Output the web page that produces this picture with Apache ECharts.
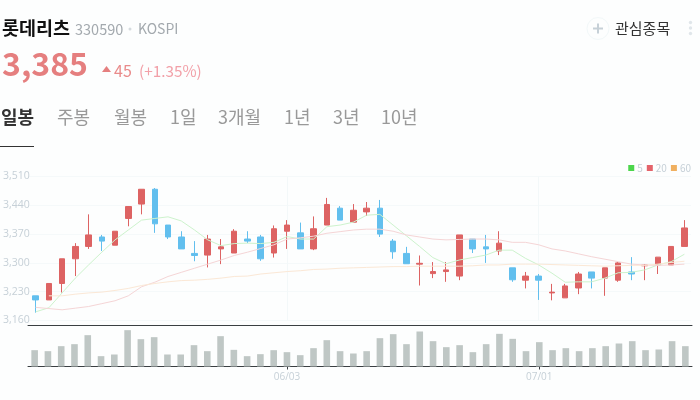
<!DOCTYPE html>
<html><head><meta charset="utf-8">
<style>html,body{margin:0;padding:0;background:#fdfefe}#c{width:700px;height:400px}</style>
<script src="https://cdn.jsdelivr.net/npm/echarts@6/dist/echarts.min.js"></script>
</head><body><div id="c"></div>
<script>
const dates=['05/06','05/09','05/10','05/11','05/12','05/13','05/16','05/17','05/18','05/19','05/20','05/23','05/24','05/25','05/26','05/27','05/30','05/31','06/02','06/03','06/07','06/08','06/09','06/10','06/13','06/14','06/15','06/16','06/17','06/20','06/21','06/22','06/23','06/24','06/27','06/28','06/29','06/30','07/01','07/04','07/05','07/06','07/07','07/08','07/11','07/12','07/13','07/14','07/15','07/18'];
const shownDates=['06/03','07/01'];
const priceTicks=[3160,3230,3300,3370,3440,3510];
const opens=[3220,3210,3250,3310,3340,3363,3343,3408,3443,3479,3392,3363,3323,3319,3334,3324,3358,3363,3324,3377,3373,3334,3392,3433,3399,3424,3433,3353,3323,3297,3274,3279,3268,3358,3339,3329,3288,3258,3268,3227,3215,3239,3278,3263,3258,3278,3293,3295,3295,3340];
const closes=[3210,3250,3310,3340,3368,3353,3377,3437,3479,3395,3363,3334,3318,3358,3339,3377,3353,3310,3383,3392,3334,3383,3442,3404,3428,3433,3370,3327,3298,3299,3279,3283,3368,3334,3334,3348,3259,3268,3258,3229,3244,3273,3263,3288,3300,3273,3295,3314,3340,3385];
const lows=[3179,3210,3228,3268,3334,3329,3343,3389,3418,3373,3358,3334,3304,3289,3297,3324,3348,3305,3313,3334,3334,3331,3392,3404,3399,3414,3363,3310,3298,3245,3263,3254,3258,3324,3300,3319,3254,3238,3210,3209,3215,3224,3238,3220,3254,3258,3258,3273,3295,3340];
const highs=[3220,3250,3310,3348,3418,3368,3377,3438,3479,3482,3392,3377,3353,3368,3358,3382,3377,3368,3391,3404,3398,3413,3458,3438,3443,3448,3453,3358,3339,3318,3302,3302,3368,3358,3368,3377,3288,3278,3273,3249,3249,3278,3278,3288,3302,3314,3297,3314,3340,3404];
const ma5=[3181,3191,3227,3263,3295,3326,3356,3380,3404,3408,3412,3402,3380,3356,3342,3347,3348,3347,3350,3364,3358,3358,3388,3392,3399,3416,3418,3392,3366,3340,3313,3298,3307,3313,3319,3331,3331,3311,3295,3275,3253,3254,3254,3263,3276,3277,3283,3295,3303,3321];
const ma20=[3192,3189,3186,3190,3194,3201,3208,3220,3242,3253,3267,3277,3287,3297,3307,3318,3326,3335,3344,3358,3361,3365,3372,3376,3380,3382,3382,3377,3368,3363,3358,3356,3357,3358,3358,3356,3350,3350,3344,3334,3329,3322,3315,3309,3303,3297,3295,3294,3295,3297];
const ma60=[null,3220,3220,3224,3227,3229,3233,3238,3245,3250,3254,3257,3258,3260,3263,3267,3268,3273,3276,3279,3281,3284,3285,3287,3288,3289,3290,3291,3291,3292,3292,3292,3292,3293,3295,3295,3297,3297,3297,3296,3295,3294,3293,3292,3293,3294,3294,3297,3301,3304];
const volumes=[49,46,61,67,94,31,36,109,82,88,36,36,64,46,91,50,31,37,49,43,34,55,79,46,39,46,85,97,67,105,76,58,64,43,67,98,83,46,73,49,55,46,55,61,69,76,49,51,76,61];
const tabs=[['일봉',1],['주봉',57],['월봉',114],['1일',170],['3개월',218],['1년',284],['3년',333],['10년',381]];
const FONT='"Noto Sans CJK KR","Open Sans",sans-serif';
const UP='#dd6363',DOWN='#62bfee',TICK='#c6d0d7';
const isShown=(i,v)=>shownDates.includes(v);
const T=(x,y,text,size,fill,weight,extra)=>({type:'text',x,y,style:Object.assign({text,font:`${weight||'normal'} ${size}px ${FONT}`,fill,textVerticalAlign:'middle'},extra||{})});
const graphic=[
 T(2,28,'롯데리츠',18.5,'#111','bold'),
 T(75,29,'330590',14.5,'#a3a9ae'),
 {type:'circle',shape:{cx:130,cy:29,r:1.5},style:{fill:'#d5dbdf'}},
 T(138,29,'KOSPI',14,'#a3a9ae'),
 T(2,64,'3,385',32,'#e57f7f','bold'),
 {type:'polygon',shape:{points:[[102,72],[111,72],[106.5,66]]},style:{fill:'#e57f7f'}},
 T(114,71,'45',16,'#e98b8b'),
 T(139,71,'(+1.35%)',15.3,'#f2a0a8'),
 {type:'circle',shape:{cx:598,cy:28.5,r:11},style:{fill:'none',stroke:'#f2f8f9',lineWidth:1}},
 {type:'rect',shape:{x:593,y:27.5,width:10,height:2},style:{fill:'#c6d0d7'}},
 {type:'rect',shape:{x:597,y:23.5,width:2,height:10},style:{fill:'#c6d0d7'}},
 T(615,28,'관심종목',15,'#333'),
 {type:'circle',shape:{cx:690.5,cy:22.5,r:1.7},style:{fill:'#e0e6ea'}},
 {type:'circle',shape:{cx:690.5,cy:28,r:1.7},style:{fill:'#e0e6ea'}},
 {type:'circle',shape:{cx:690.5,cy:33.5,r:1.7},style:{fill:'#e0e6ea'}},
 {type:'rect',shape:{x:0,y:146,width:34,height:1},style:{fill:'#333'}}
].concat(tabs.map((t,i)=>T(t[1],117,t[0],18,i?'#999':'#333',i?'normal':'bold')));
const line=(name,data,color)=>({name,type:'line',data,xAxisIndex:0,yAxisIndex:0,showSymbol:false,smooth:false,connectNulls:false,
  lineStyle:{width:1,color},itemStyle:{color},silent:true,z:3});
const chart=echarts.init(document.getElementById('c'));
chart.setOption({
 animation:false,backgroundColor:'#fdfefe',textStyle:{fontFamily:FONT},graphic,
 legend:{top:163,right:9,itemWidth:6,itemHeight:6,itemGap:4,icon:'rect',padding:0,
   textStyle:{color:TICK,fontSize:10,padding:[0,0,0,-2]},
   data:[{name:'5',itemStyle:{color:'#4cd64c'}},{name:'20',itemStyle:{color:'#e4636a'}},{name:'60',itemStyle:{color:'#f0b060'}}]},
 grid:[{left:27,right:9,top:176.5,height:144},{left:28,right:8,top:325.5,height:41}],
 xAxis:[
  {type:'category',gridIndex:0,data:dates,boundaryGap:true,axisLine:{show:false},axisLabel:{show:false},
   axisTick:{show:false,alignWithLabel:true,interval:isShown},
   splitLine:{show:true,alignWithLabel:true,interval:isShown,lineStyle:{color:'#f3f8f9'}}},
  {type:'category',gridIndex:1,data:dates,boundaryGap:true,position:'bottom',
   axisLine:{lineStyle:{color:'#3a3f42',width:1}},
   axisTick:{show:true,alignWithLabel:true,length:3,interval:isShown,lineStyle:{color:'#3a3f42'}},
   axisLabel:{show:true,interval:isShown,color:TICK,fontSize:10,margin:6,fontFamily:'"Open Sans",sans-serif'}},
  {type:'category',gridIndex:1,data:dates,position:'top',axisLine:{lineStyle:{color:'#3a3f42',width:1}},axisTick:{show:false},axisLabel:{show:false}}
 ],
 yAxis:[
  {type:'value',gridIndex:0,min:priceTicks[0],max:priceTicks[5],scale:true,axisLine:{show:false},
   axisTick:{show:false,customValues:priceTicks},
   axisLabel:{customValues:priceTicks,align:'left',margin:26,color:TICK,fontSize:10.5,fontFamily:'"Open Sans",sans-serif',
     formatter:v=>v.toLocaleString('en-US')},
   splitLine:{show:true,lineStyle:{color:'#f5f9fa'}}},
  {type:'value',gridIndex:1,min:0,max:123,axisLine:{show:false},axisTick:{show:false},axisLabel:{show:false},splitLine:{show:false}}
 ],
 series:[
  {name:'price',type:'candlestick',xAxisIndex:0,yAxisIndex:0,barWidth:6,z:2,
   data:dates.map((d,i)=>[opens[i],closes[i],lows[i],highs[i]]),
   itemStyle:{color:UP,color0:DOWN,borderColor:UP,borderColor0:DOWN,borderWidth:1}},
  line('5',ma5,'#cdf3cd'),
  line('20',ma20,'#f5d5d6'),
  line('60',ma60,'#fbe8d6'),
  {name:'volume',type:'bar',xAxisIndex:1,yAxisIndex:1,data:volumes,barWidth:6.6,itemStyle:{color:'#bfc7c5'}}
 ]
});
</script></body></html>
